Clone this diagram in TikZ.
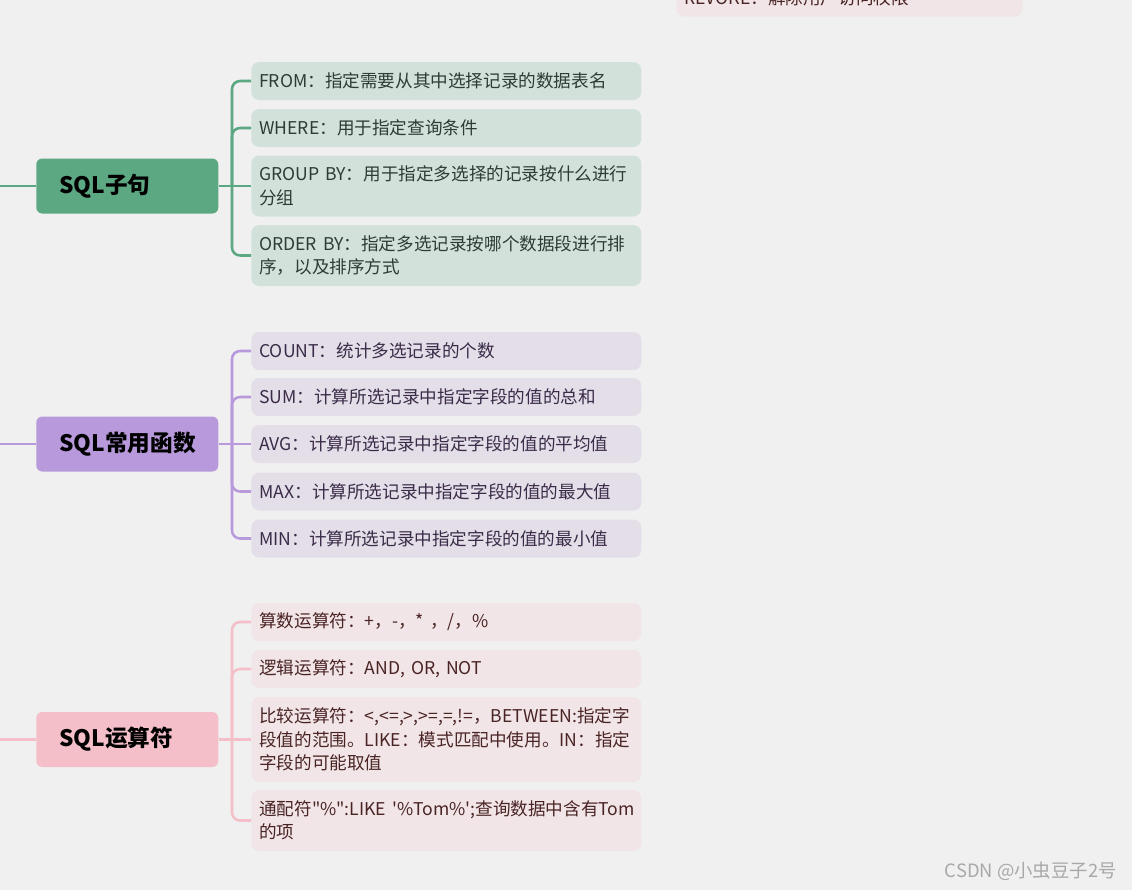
\documentclass[tikz,border=0pt]{standalone}
\usepackage{fontspec}
\newfontfamily\cjk{Noto Sans CJK SC}
\definecolor{bg}{HTML}{F0F0F0}
\definecolor{gmain}{HTML}{5CA883}
\definecolor{gchild}{HTML}{D2E2DB}
\definecolor{gtext}{HTML}{2F3B35}
\definecolor{pmain}{HTML}{B89ADC}
\definecolor{pchild}{HTML}{E4DEE9}
\definecolor{ptext}{HTML}{3A2C48}
\definecolor{rmain}{HTML}{F4BFC9}
\definecolor{rchild}{HTML}{F1E5E7}
\definecolor{rtext}{HTML}{4A2424}
\definecolor{wm}{HTML}{A8A8A8}
\begin{document}
\begin{tikzpicture}[x=0.75pt,y=-0.75pt,
  mainbox/.style={rounded corners=4.5pt, minimum height=41.25pt, text width=102pt,
    inner xsep=17.25pt, inner ysep=0pt, anchor=west, align=left,
    font=\cjk\bfseries\fontsize{17}{20}\selectfont, text=black},
  childbox/.style={rounded corners=6pt, text width=280.5pt, inner xsep=6pt, inner ysep=0pt,
    anchor=west, align=left, font=\cjk\fontsize{13.2}{17.6}\selectfont},
  gbox/.style={childbox, fill=gchild, text=gtext},
  pbox/.style={childbox, fill=pchild, text=ptext},
  rbox/.style={childbox, fill=rchild, text=rtext},
  hone/.style={minimum height=28.5pt},
  htwo/.style={minimum height=45.75pt},
  hthree/.style={minimum height=63.75pt},
  gline/.style={draw=gmain, line width=1.9pt, rounded corners=6pt},
  pline/.style={draw=pmain, line width=1.9pt, rounded corners=6pt},
  rline/.style={draw=rmain, line width=1.9pt, rounded corners=6pt}
]
\useasboundingbox (0,0) rectangle (1132,890);
\clip (0,0) rectangle (1132,890);
\fill[bg] (0,0) rectangle (1132,890);

% top partial box
\node[rbox, anchor=south west, minimum height=28.5pt, text width=247.5pt] (rv) at (676,17) {REVOKE：解除用户访问权限};

% ---------- SQL 子句 ----------
\coordinate (l1) at (0,186);
\coordinate (t1) at (232,186);
\node[mainbox, fill=gmain] (m1) at (36,186) {SQL子句};
\node[gbox, hone] (g1) at (251,81) {FROM：指定需要从其中选择记录的数据表名};
\node[gbox, hone] (g2) at (251,128) {WHERE：用于指定查询条件};
\node[gbox, htwo] (g3) at (251,186) {GROUP BY：用于指定多选择的记录按什么进行\\分组};
\node[gbox, htwo] (g4) at (251,255.5) {ORDER BY：指定多选记录按哪个数据段进行排\\序，以及排序方式};
\draw[gline] (l1) -- (m1.west);
\draw[gline] (m1.east) -- (t1);
\draw[gline] (t1) |- (g1.west);
\draw[gline] (t1) |- (g2.west);
\draw[gline] (t1) -- (g3.west);
\draw[gline] (t1) |- (g4.west);

% ---------- SQL 常用函数 ----------
\coordinate (l2) at (0,444);
\coordinate (t2) at (232,444);
\node[mainbox, fill=pmain] (m2) at (36,444) {SQL常用函数};
\node[pbox, hone] (p1) at (251,351) {COUNT：统计多选记录的个数};
\node[pbox, hone] (p2) at (251,397) {SUM：计算所选记录中指定字段的值的总和};
\node[pbox, hone] (p3) at (251,444) {AVG：计算所选记录中指定字段的值的平均值};
\node[pbox, hone] (p4) at (251,491.5) {MAX：计算所选记录中指定字段的值的最大值};
\node[pbox, hone] (p5) at (251,538.5) {MIN：计算所选记录中指定字段的值的最小值};
\draw[pline] (l2) -- (m2.west);
\draw[pline] (m2.east) -- (t2);
\draw[pline] (t2) |- (p1.west);
\draw[pline] (t2) |- (p2.west);
\draw[pline] (t2) -- (p3.west);
\draw[pline] (t2) |- (p4.west);
\draw[pline] (t2) |- (p5.west);

% ---------- SQL 运算符 ----------
\coordinate (l3) at (0,739.5);
\coordinate (t3) at (232,739.5);
\node[mainbox, fill=rmain] (m3) at (36,739.5) {SQL运算符};
\node[rbox, hone] (r1) at (251,622) {算数运算符：+，-，* ，/，\%};
\node[rbox, hone] (r2) at (251,669) {逻辑运算符：AND, OR, NOT};
\node[rbox, hthree] (r3) at (251,739.5) {比较运算符：<,<=,>,>=,=,!=，BETWEEN:指定字\\段值的范围。LIKE：模式匹配中使用。IN：指定\\字段的可能取值};
\node[rbox, htwo] (r4) at (251,820.5) {\mbox{通配符"\%":LIKE~'\%Tom\%';查询数据中含有Tom}\\的项};
\draw[rline] (l3) -- (m3.west);
\draw[rline] (m3.east) -- (t3);
\draw[rline] (t3) |- (r1.west);
\draw[rline] (t3) |- (r2.west);
\draw[rline] (t3) -- (r3.west);
\draw[rline] (t3) |- (r4.west);

% watermark
\node[anchor=east, inner sep=0pt, text=wm, font=\cjk\fontsize{13.8}{16}\selectfont] (wmk) at (1117,871) {CSDN @小虫豆子2号};
\end{tikzpicture}
\end{document}
